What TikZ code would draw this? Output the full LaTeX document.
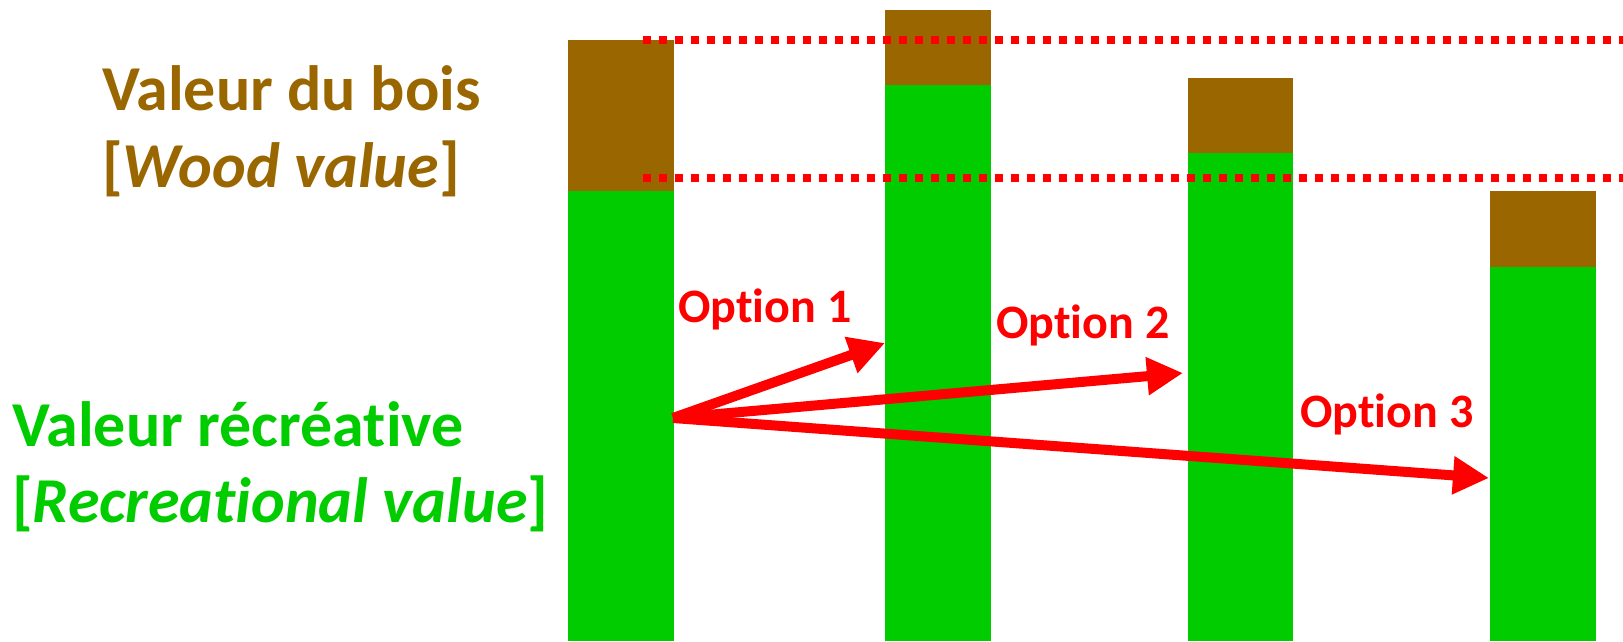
\documentclass[tikz,border=0pt]{standalone}
\usepackage{fontspec}
\setmainfont{Carlito}[Ligatures=NoCommon]
\usetikzlibrary{arrows.meta}
\definecolor{woodbrown}{RGB}{153,102,0}
\definecolor{recgreen}{RGB}{0,204,0}
\definecolor{optred}{RGB}{255,0,0}
\tikzset{
  woodpart/.style={fill=woodbrown,draw=none},
  recpart/.style={fill=recgreen,draw=none},
  refline/.style={draw=optred,line width=8pt,dash pattern=on 8pt off 8pt},
  optarrow/.style={draw=optred,line width=10pt,-{Triangle[length=36pt,width=36pt]}},
  optlabel/.style={text=optred,font=\fontsize{48}{56}\selectfont\bfseries,anchor=base west,inner sep=0pt},
  headlabel/.style={font=\fontsize{64}{76}\selectfont\bfseries,anchor=base west,inner sep=0pt}
}
\begin{document}
\begin{tikzpicture}[x=1pt,y=-1pt]
\useasboundingbox (0,0) rectangle (1623,641);
% bars
\path[woodpart] (568,40) rectangle (674,191);
\path[recpart] (568,191) rectangle (674,641);
\path[woodpart] (885,10) rectangle (991,85);
\path[recpart] (885,85) rectangle (991,641);
\path[woodpart] (1188,78) rectangle (1293,153);
\path[recpart] (1188,153) rectangle (1293,641);
\path[woodpart] (1490,191) rectangle (1596,267);
\path[recpart] (1490,267) rectangle (1596,641);
% reference lines
\coordinate (la) at (643,40);
\coordinate (lb) at (1623,40);
\coordinate (lc) at (643,178);
\coordinate (ld) at (1623,178);
\draw[refline] (la) -- (lb);
\draw[refline] (lc) -- (ld);
% labels
\node[headlabel,text=woodbrown] (wood1) at (102,110) {Valeur du bois};
\node[headlabel,text=woodbrown] (wood2) at (102,187) {[\textit{Wood value}]};
\node[headlabel,text=recgreen] (rec1) at (12,446) {Valeur récréative};
\node[headlabel,text=recgreen] (rec2) at (12,522) {[\textit{Recreational value}]};
% arrows
\coordinate (src) at (673,418);
\coordinate (t1) at (885,343);
\coordinate (t2) at (1183,373);
\coordinate (t3) at (1489,478);
\draw[optarrow] (src) -- (t1);
\draw[optarrow] (src) -- (t2);
\draw[optarrow] (src) -- (t3);
\node[optlabel] (o1) at (678,322) {Option 1};
\node[optlabel] (o2) at (996,338) {Option 2};
\node[optlabel] (o3) at (1300,427) {Option 3};
\end{tikzpicture}
\end{document}
